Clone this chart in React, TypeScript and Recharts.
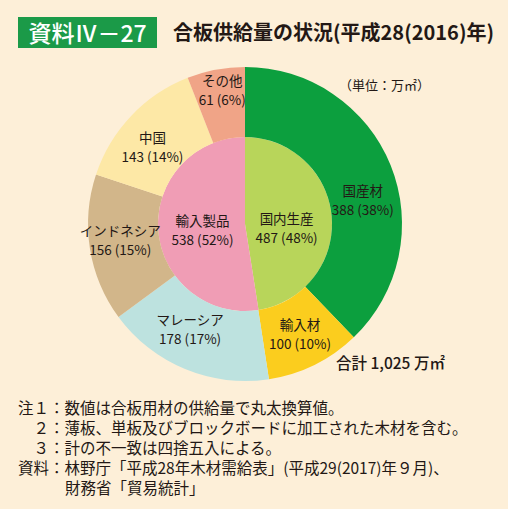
import React from "react";
import { PieChart, Pie, Cell } from "recharts";

// 外側リング：原料の内訳（万㎡）
const outerNames = ["国産材", "輸入材", "マレーシア", "インドネシア", "中国", "その他"];
const outerValues = [388, 100, 178, 156, 143, 61];
const outerPcts = [38, 10, 17, 15, 14, 6];

// 内側：国内生産 / 輸入製品
const innerNames = ["国内生産", "輸入製品"];
const innerValues = [487, 538];
const innerPcts = [48, 52];

const outerColors = ["#0c9f3e", "#fbcd1e", "#bde2df", "#d2b68a", "#fde8a6", "#f0a487"];
const innerColors = ["#b8d55a", "#f09db5"];

const INK = "#231815";
const BG = "#fdefd8";
const FONT = '"Noto Sans CJK JP", "Noto Sans", sans-serif';
const RAD = Math.PI / 180;

// label placement tweaks: radius and clockwise angle shift (deg)
const labelNudge: Record<string, { r: number; da: number }> = {
  国産材: { r: 120, da: 11 },
  輸入材: { r: 124, da: 0 },
  マレーシア: { r: 119, da: 5 },
  インドネシア: { r: 126, da: 1 },
  中国: { r: 120, da: -4 },
  その他: { r: 135, da: 1 },
  国内生産: { r: 42, da: 12 },
  輸入製品: { r: 43, da: -5 },
};

const outerData = outerNames.map((name, i) => ({
  name,
  value: outerValues[i],
  pct: outerPcts[i],
}));
const innerData = innerNames.map((name, i) => ({
  name,
  value: innerValues[i],
  pct: innerPcts[i],
}));

function SliceLabel(props: any) {
  const { cx, cy, midAngle, name, value, payload } = props;
  const nudge = labelNudge[name] ?? { r: 100, da: 0 };
  const a = (midAngle - nudge.da) * RAD;
  const x = cx + nudge.r * Math.cos(a);
  const y = cy - nudge.r * Math.sin(a);
  const pct = payload?.pct ?? props.pct;
  return (
    <g>
      <text x={x} y={y - 5} textAnchor="middle" fill={INK} fontSize={13.5} fontFamily={FONT}>
        {name}
      </text>
      <text x={x} y={y + 14} textAnchor="middle" fill={INK} fontSize={13.5} fontFamily={FONT}>
        {`${value} (${pct}%)`}
      </text>
    </g>
  );
}

const noteStyle: React.CSSProperties = {
  position: "absolute",
  fontSize: 15.5,
  lineHeight: "20px",
  color: INK,
  whiteSpace: "nowrap",
  fontFamily: FONT,
};

const indent: React.CSSProperties = {
  display: "inline-block",
  width: 31,
  textAlign: "right",
};

export default function App() {
  return (
    <div
      style={{
        position: "absolute",
        left: 0,
        top: 0,
        width: 508,
        height: 509,
        background: BG,
        fontFamily: FONT,
        overflow: "hidden",
      }}
    >
      {/* title */}
      <div
        style={{
          position: "absolute",
          left: 18,
          top: 17,
          width: 139,
          height: 31,
          background: "#1b9a48",
          color: "#fff",
          fontSize: 23,
          lineHeight: "31px",
          textAlign: "center",
          fontWeight: 500,
        }}
      >
        資料Ⅳ－27
      </div>
      <div
        style={{
          position: "absolute",
          left: 173,
          top: 18,
          fontSize: 20,
          lineHeight: "28px",
          color: INK,
          fontWeight: 600,
          whiteSpace: "nowrap",
        }}
      >
        合板供給量の状況(平成28(2016)年)
      </div>

      <PieChart width={508} height={400} style={{ position: "absolute", left: 0, top: 0 }}>
        <Pie
          data={innerData}
          dataKey="value"
          nameKey="name"
          cx={240}
          cy={219}
          innerRadius={0}
          outerRadius={87}
          startAngle={90}
          endAngle={-270}
          stroke="none"
          label={SliceLabel}
          labelLine={false}
          isAnimationActive={false}
        >
          {innerData.map((d, i) => (
            <Cell key={d.name} fill={innerColors[i]} />
          ))}
        </Pie>
        <Pie
          data={outerData}
          dataKey="value"
          nameKey="name"
          cx={240}
          cy={219}
          innerRadius={87}
          outerRadius={157}
          startAngle={90}
          endAngle={-270}
          stroke="none"
          label={SliceLabel}
          labelLine={false}
          isAnimationActive={false}
        >
          {outerData.map((d, i) => (
            <Cell key={d.name} fill={outerColors[i]} />
          ))}
        </Pie>
      </PieChart>

      <div style={{ ...noteStyle, left: 339, top: 75, fontSize: 13 }}>（単位：万㎡）</div>
      <div style={{ ...noteStyle, left: 336, top: 352, fontSize: 15.5, fontWeight: 500 }}>
        合計 1,025 万㎡
      </div>

      {/* notes */}
      <div style={{ ...noteStyle, left: 18, top: 397 }}>注１：数値は合板用材の供給量で丸太換算値。</div>
      <div style={{ ...noteStyle, left: 18, top: 417 }}>
        <span style={indent}>２</span>：薄板、単板及びブロックボードに加工された木材を含む。
      </div>
      <div style={{ ...noteStyle, left: 18, top: 437 }}>
        <span style={indent}>３</span>：計の不一致は四捨五入による。
      </div>
      <div style={{ ...noteStyle, left: 18, top: 457 }}>
        資料：林野庁「平成28年木材需給表」(平成29(2017)年９月)、
      </div>
      <div style={{ ...noteStyle, left: 65, top: 477 }}>財務省「貿易統計」</div>
    </div>
  );
}
